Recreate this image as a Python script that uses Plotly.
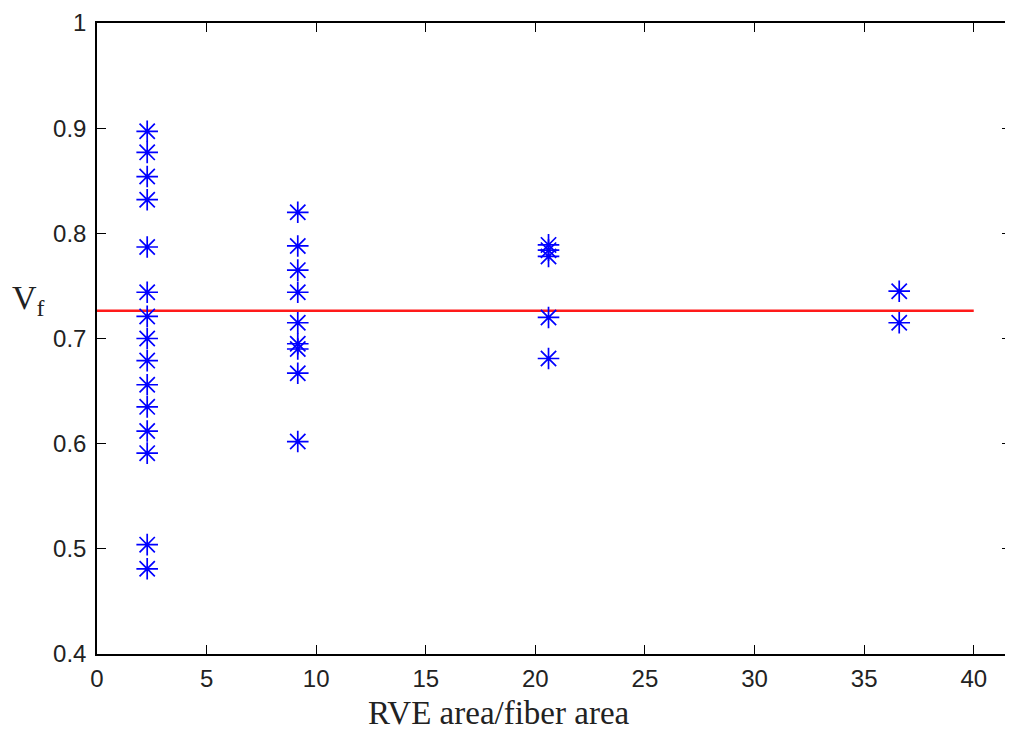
import plotly.graph_objects as go

# Data
x_groups = [2.29, 9.16, 20.6, 36.6]
vf_group1 = [0.897, 0.877, 0.854, 0.832, 0.787, 0.744, 0.721, 0.700, 0.679,
             0.656, 0.635, 0.612, 0.591, 0.504, 0.481]
vf_group2 = [0.820, 0.788, 0.765, 0.744, 0.715, 0.695, 0.690, 0.667, 0.602]
vf_group3 = [0.789, 0.784, 0.778, 0.720, 0.681]
vf_group4 = [0.745, 0.715]
mean_vf = 0.7265
mean_x = [0, 40]

groups = [vf_group1, vf_group2, vf_group3, vf_group4]
xs, ys = [], []
for xv, g in zip(x_groups, groups):
    xs += [xv] * len(g)
    ys += g

# page has an 8px body margin; figure sized to fit the window
W, H = 1005, 725
L, R, T, B = 89, 0, 15, 79
PW, PH = W - L - R, H - T - B

fig = go.Figure()
fig.add_trace(go.Scatter(
    x=mean_x, y=[mean_vf, mean_vf], mode="lines",
    line=dict(color="#ff1a1a", width=2.5), hoverinfo="skip", showlegend=False))
fig.add_trace(go.Scatter(
    x=xs, y=ys, mode="markers",
    marker=dict(symbol="asterisk-open", size=18, color="#0000ff",
                line=dict(color="#0000ff", width=1.7)),
    showlegend=False))

axis_common = dict(
    showline=True, linecolor="black", linewidth=1.5, mirror="ticks",
    ticks="inside", ticklen=9, tickwidth=1.3, tickcolor="black",
    showgrid=False, zeroline=False,
    tickfont=dict(family="Liberation Sans, Arial, sans-serif", size=24, color="#222222"),
)

fig.update_layout(
    width=W, height=H,
    paper_bgcolor="white", plot_bgcolor="white",
    margin=dict(l=L, r=R, t=T, b=B),
    xaxis=dict(range=[0, 41.7], tickvals=[0, 5, 10, 15, 20, 25, 30, 35, 40],
               ticklabelstandoff=2, **axis_common),
    yaxis=dict(range=[0.4, 1.0], tickvals=[0.4, 0.5, 0.6, 0.7, 0.8, 0.9, 1.0],
               ticktext=["0.4", "0.5", "0.6", "0.7", "0.8", "0.9", "1"],
               ticklabelstandoff=4, **axis_common),
    annotations=[
        dict(text="RVE area/fiber area", xref="paper", yref="paper",
             x=(500 - 97) / PW, y=-(713 - 654) / PH,
             xanchor="center", yanchor="middle", showarrow=False,
             font=dict(family="Liberation Serif, Times New Roman, serif", size=33, color="#222222")),
        dict(text="V<sub>f</sub>", xref="paper", yref="paper",
             x=-(97 - 10) / PW, y=(654 - 300) / PH,
             xanchor="left", yanchor="middle", showarrow=False,
             font=dict(family="Liberation Serif, Times New Roman, serif", size=34, color="#222222")),
    ],
)

fig.write_html("out.html")
